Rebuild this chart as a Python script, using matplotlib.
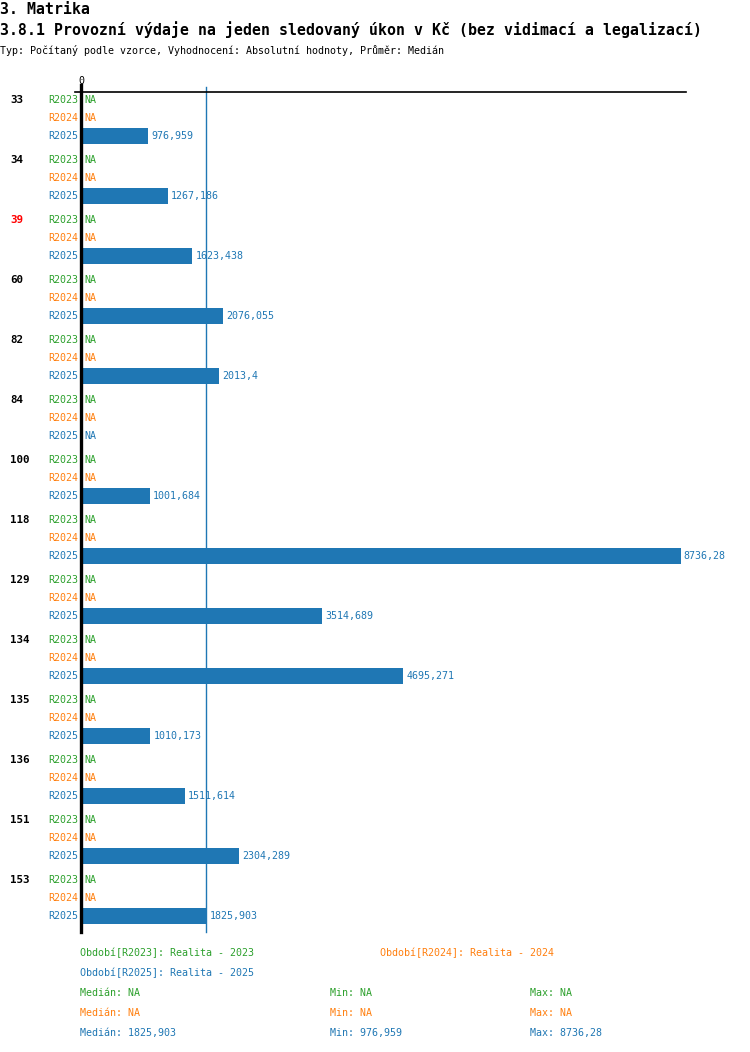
import matplotlib.pyplot as plt
import numpy as np

plt.rcParams['font.family'] = ['DejaVu Sans Mono']

# --- data ---
groups = ['33', '34', '39', '60', '82', '84', '100', '118', '129', '134', '135', '136', '151', '153']
highlight = '39'
periods = ['R2023', 'R2024', 'R2025']
r2023 = [None] * len(groups)
r2024 = [None] * len(groups)
r2025 = [976.959, 1267.186, 1623.438, 2076.055, 2013.4, None, 1001.684,
         8736.28, 3514.689, 4695.271, 1010.173, 1511.614, 2304.289, 1825.903]
median_r2025 = 1825.903
period_names = ['Realita - 2023', 'Realita - 2024', 'Realita - 2025']
stats_median = ['NA', 'NA', '1825,903']
stats_min = ['NA', 'NA', '976,959']
stats_max = ['NA', 'NA', '8736,28']

colors = ['#2ca02c', '#ff7f0e', '#1f77b4']
W, H = 750, 1052
XMAX = 8815

fig = plt.figure(figsize=(W / 100, H / 100), dpi=100)
ax = fig.add_axes([81 / W, 1 - 932 / H, (686 - 81) / W, (932 - 92) / H])

series = [r2023, r2024, r2025]
row_step, group_step = 18, 60
y_bottom = len(groups) * group_step - 8
for g, name in enumerate(groups):
    gy = g * group_step
    ax.text(-71 * XMAX / 605, gy, name, ha='left', va='center', fontsize=7.8,
            fontweight='bold', color='red' if name == highlight else 'black')
    for k, (per, vals) in enumerate(zip(periods, series)):
        y = gy + k * row_step
        v = vals[g]
        ax.annotate(per, (0, y), xytext=(-3, 0), textcoords='offset pixels',
                    ha='right', va='center', fontsize=7.2, color=colors[k])
        if v is None:
            ax.annotate('NA', (0, y), xytext=(3, 0), textcoords='offset pixels',
                        ha='left', va='center', fontsize=7.2, color=colors[k])
        else:
            ax.barh(y, v, height=16, color=colors[k], left=0)
            ax.annotate(str(v).replace('.', ','), (v, y), xytext=(3, 0),
                        textcoords='offset pixels', ha='left', va='center',
                        fontsize=7.2, color=colors[k])

ax.set_xlim(0, XMAX)
ax.set_ylim(y_bottom, -8)
for s in ax.spines.values():
    s.set_visible(False)
ax.set_xticks([])
ax.set_yticks([])

# median line, axis lines
ax.plot([median_r2025, median_r2025], [-13, y_bottom],
        color=colors[2], lw=1, clip_on=False, zorder=1)
ax.plot([0, 0], [-15, y_bottom], color='black', lw=2.4,
        clip_on=False, zorder=3)
ax.plot([-6 * XMAX / 605, XMAX], [-8, -8], color='black', lw=1.2, clip_on=False, zorder=3)
ax.annotate('0', (0, -8), xytext=(0, 6), textcoords='offset pixels',
            ha='center', va='bottom', fontsize=7.2)

# titles
fig.text(0 / W, 1 - 9 / H, '3. Matrika', ha='left', va='center',
         fontsize=10.7, fontweight='bold')
fig.text(0 / W, 1 - 30 / H,
         '3.8.1 Provozní výdaje na jeden sledovaný úkon v Kč (bez vidimací a legalizací)',
         ha='left', va='center', fontsize=10.7, fontweight='bold')
fig.text(0 / W, 1 - 50 / H,
         'Typ: Počítaný podle vzorce, Vyhodnocení: Absolutní hodnoty, Průměr: Medián',
         ha='left', va='center', fontsize=7.2)

# legend
leg_pos = [(80, 953), (380, 953), (80, 973)]
for (px, py), per, nm, c in zip(leg_pos, periods, period_names, colors):
    fig.text(px / W, 1 - py / H, f'Období[{per}]: {nm}', ha='left', va='center',
             fontsize=7.2, color=c)
for k in range(3):
    py = 993 + k * 20
    fig.text(80 / W, 1 - py / H, f'Medián: {stats_median[k]}', ha='left', va='center',
             fontsize=7.2, color=colors[k])
    fig.text(330 / W, 1 - py / H, f'Min: {stats_min[k]}', ha='left', va='center',
             fontsize=7.2, color=colors[k])
    fig.text(530 / W, 1 - py / H, f'Max: {stats_max[k]}', ha='left', va='center',
             fontsize=7.2, color=colors[k])

fig.savefig('out.png', dpi=100)
